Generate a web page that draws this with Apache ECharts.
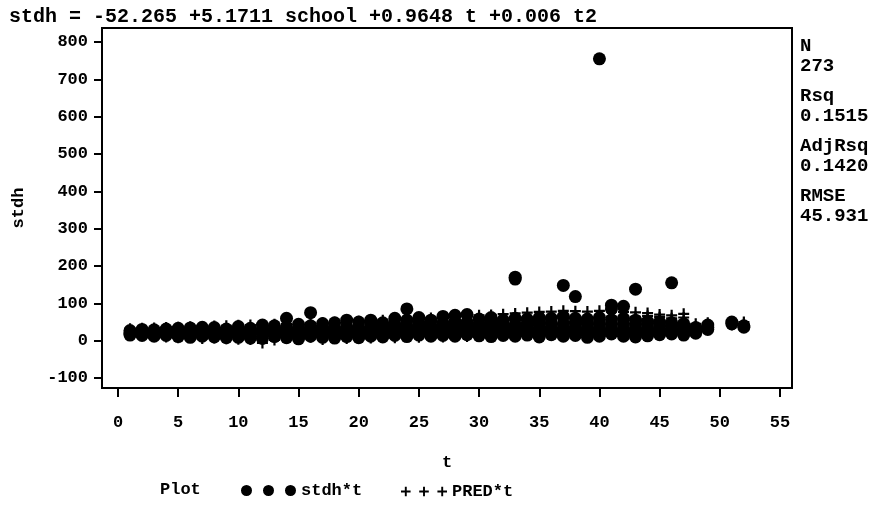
<!DOCTYPE html>
<html>
<head>
<meta charset="utf-8">
<title>stdh vs t</title>
<script src="https://cdn.jsdelivr.net/npm/echarts@6/dist/echarts.min.js"></script>
<style>
  html, body { margin: 0; padding: 0; background: #fff; }
  #chart1 { width: 885px; height: 512px; }
</style>
</head>
<body>
<div id="chart1"></div>
<script>
// t values (1..52) and the observations at each t
const tValues = [1, 2, 3, 4, 5, 6, 7, 8, 9, 10, 11, 12, 13, 14, 15, 16, 17, 18, 19, 20,
  21, 22, 23, 24, 25, 26, 27, 28, 29, 30, 31, 32, 33, 34, 35, 36, 37, 38, 39, 40,
  41, 42, 43, 44, 45, 46, 47, 48, 49, 50, 51, 52];

const stdhByT = [
  [22, 18, 27, 15], [20, 14, 25, 30], [24, 17, 29, 12], [19, 26, 14, 31],
  [23, 11, 28, 17, 33], [21, 15, 27, 9, 34], [18, 25, 12, 30, 36], [22, 10, 28, 16, 35],
  [26, 13, 20, 31, 8], [24, 9, 29, 16, 38], [21, 12, 27, 33, 7], [25, 6, 30, 18, 42],
  [23, 11, 31, 16, 40], [60, 20, 8, 28, 35, 14], [26, 10, 33, 18, 44, 5], [75, 24, 12, 30, 40, 17],
  [22, 9, 28, 36, 15, 46], [27, 13, 33, 20, 48, 7], [25, 11, 31, 55, 18, 38], [28, 14, 35, 50, 21, 8],
  [26, 12, 33, 44, 19, 55], [30, 16, 38, 10, 48, 23], [27, 14, 35, 60, 20, 45], [85, 32, 18, 40, 25, 55, 11],
  [29, 15, 37, 62, 22, 48], [31, 17, 40, 12, 55, 25], [28, 14, 36, 65, 21, 47], [33, 18, 42, 68, 25, 12, 52],
  [30, 16, 38, 70, 23, 50], [34, 19, 44, 13, 58, 27], [31, 17, 40, 62, 24, 50, 11], [35, 20, 45, 14, 55, 28],
  [170, 165, 33, 18, 42, 60, 25, 12], [36, 21, 46, 15, 58, 29], [32, 18, 43, 62, 25, 10, 52], [37, 22, 48, 16, 60, 29],
  [148, 34, 19, 45, 65, 26, 12], [118, 36, 21, 47, 60, 28, 14], [33, 18, 44, 58, 25, 9, 50], [755, 35, 20, 46, 62, 27, 12],
  [95, 85, 32, 18, 44, 56, 25], [92, 34, 20, 46, 60, 27, 12], [138, 31, 17, 42, 55, 24, 10], [33, 19, 45, 52, 26, 13],
  [30, 16, 40, 50, 23], [155, 32, 18, 42, 48, 25], [28, 15, 38, 45, 22], [26, 35, 20],
  [36, 42, 30], [], [50, 45], [40, 36]
];

const predByT = [
  [24, 14, 32, 19], [25, 15, 33, 20], [26, 12, 34, 21], [27, 16, 35, 10],
  [28, 13, 36, 22, 8], [29, 17, 37, 23, 9], [30, 14, 38, 24, 6], [31, 18, 39, 25, 7],
  [32, 15, 40, 26, 5], [33, 19, 41, 27, 4], [34, 16, 42, 28, 3], [35, 20, 43, 29, -6],
  [36, 17, 44, 30, 2], [37, 21, 45, 31, 8, 14], [38, 18, 46, 32, 5, 12], [39, 22, 47, 33, 9, 15],
  [40, 19, 48, 34, 3, 13], [41, 23, 49, 35, 10, 16], [42, 20, 50, 36, 6, 14], [43, 24, 52, 37, 11, 17],
  [44, 21, 54, 38, 7, 15], [45, 25, 55, 39, 12, 18], [46, 22, 56, 40, 8, 16], [47, 26, 58, 41, 13, 19, 30],
  [48, 23, 59, 42, 9, 17], [49, 27, 61, 43, 14, 20], [50, 24, 62, 44, 10, 18], [51, 28, 64, 45, 15, 21, 35],
  [52, 25, 66, 46, 11, 19], [53, 29, 68, 47, 16, 22], [54, 26, 69, 48, 12, 20, 36], [55, 30, 71, 49, 17, 23],
  [56, 27, 73, 50, 13, 21, 38, 60], [57, 31, 75, 51, 18, 24], [58, 28, 77, 52, 14, 22, 40], [59, 32, 78, 53, 19, 25],
  [60, 29, 80, 54, 15, 23, 42], [61, 33, 79, 55, 20, 26, 44], [62, 30, 78, 56, 16, 24, 46], [63, 34, 80, 57, 21, 27, 48],
  [64, 31, 78, 58, 17, 25, 50], [65, 35, 77, 59, 22, 28, 52], [64, 32, 76, 58, 18, 26, 50], [66, 36, 74, 57, 23, 29],
  [63, 33, 70, 55, 19], [60, 37, 68, 54, 24, 30], [62, 34, 72, 52, 20], [45, 38, 30],
  [48, 40, 33], [], [46, 42], [50, 44]
];

const xTicks = [0, 5, 10, 15, 20, 25, 30, 35, 40, 45, 50, 55];
const yTicks = [-100, 0, 100, 200, 300, 400, 500, 600, 700, 800];

const titleText = "stdh = -52.265 +5.1711 school +0.9648 t +0.006 t2";
const statLabels = ["N", "Rsq", "AdjRsq", "RMSE"];
const statValues = ["273", "0.1515", "0.1420", "45.931"];

const monoFont = "'Liberation Mono', 'DejaVu Sans Mono', monospace";
const dotIcon = "path://M0,5.5a5.5,5.5 0 1,0 11,0a5.5,5.5 0 1,0 -11,0Z M22,5.5a5.5,5.5 0 1,0 11,0a5.5,5.5 0 1,0 -11,0Z M44,5.5a5.5,5.5 0 1,0 11,0a5.5,5.5 0 1,0 -11,0Z";
const plusPath = "path://M4,0H6V4H10V6H6V10H4V6H0V4H4Z";
const plusIcon = "path://M4,0H6V4H10V6H6V10H4V6H0V4H4Z M23,0H25V4H29V6H25V10H23V6H19V4H23Z M42,0H44V4H48V6H44V10H42V6H38V4H42Z";

const buildPoints = (byT) => {
  let pts = [];
  for (let i = 0; i < tValues.length; i++) {
    for (let j = 0; j < byT[i].length; j++) {
      pts.push([tValues[i], byT[i][j]]);
    }
  }
  return pts;
};

const boldText = (size) => ({ fontFamily: monoFont, fontWeight: "bold", fontSize: size, color: "#000" });

const buildStats = () => {
  let items = [];
  for (let i = 0; i < statLabels.length; i++) {
    items.push({
      type: "text",
      left: 800,
      top: 37 + i * 50,
      style: { text: statLabels[i], fontFamily: monoFont, fontWeight: "bold", fontSize: 19, fill: "#000" },
    });
    items.push({
      type: "text",
      left: 800,
      top: 57 + i * 50,
      style: { text: statValues[i], fontFamily: monoFont, fontWeight: "bold", fontSize: 19, fill: "#000" },
    });
  }
  return items;
};

const getOptionChart1 = () => {
  return {
    animation: false,
    backgroundColor: "#fff",
    title: {
      text: titleText,
      left: 4,
      top: 2,
      textStyle: boldText(20),
    },
    grid: {
      left: 102,
      right: 93,
      top: 28,
      bottom: 124,
      containLabel: false,
      outerBoundsMode: "none",
      show: true,
      borderColor: "#000",
      borderWidth: 2,
    },
    legend: [
      {
        left: 236,
        top: 477,
        itemWidth: 55,
        itemHeight: 11,
        itemGap: 5,
        selectedMode: false,
        textStyle: boldText(17),
        data: [{ name: "stdh*t", icon: dotIcon }],
      },
      {
        left: 396,
        top: 478,
        itemWidth: 46,
        itemHeight: 10,
        itemGap: 5,
        selectedMode: false,
        textStyle: boldText(17),
        data: [{ name: "PRED*t", icon: plusIcon }],
      },
    ],
    xAxis: {
      type: "value",
      min: -1.33,
      max: 56.0,
      name: "t",
      nameLocation: "middle",
      nameGap: 66,
      nameTextStyle: boldText(17),
      axisLine: { onZero: false, lineStyle: { color: "#000", width: 2 } },
      axisTick: { show: true, inside: false, length: 9, customValues: xTicks, lineStyle: { color: "#000", width: 2 } },
      axisLabel: Object.assign({ customValues: xTicks, margin: 26 }, boldText(17)),
      splitLine: { show: false },
    },
    yAxis: {
      type: "value",
      min: -126.8,
      max: 837.5,
      name: "stdh",
      nameLocation: "middle",
      nameRotate: 90,
      nameGap: 75,
      nameTextStyle: boldText(17),
      axisLine: { onZero: false, lineStyle: { color: "#000", width: 2 } },
      axisTick: { show: true, inside: false, length: 8, customValues: yTicks, lineStyle: { color: "#000", width: 2 } },
      axisLabel: Object.assign({ customValues: yTicks, margin: 14 }, boldText(17)),
      splitLine: { show: false },
    },
    graphic: [
      {
        type: "text",
        left: 160,
        top: 481,
        style: { text: "Plot", fontFamily: monoFont, fontWeight: "bold", fontSize: 17, fill: "#000" },
      },
    ].concat(buildStats()),
    series: [
      {
        name: "stdh*t",
        type: "scatter",
        symbol: "circle",
        symbolSize: 13,
        itemStyle: { color: "#000", opacity: 1 },
        data: buildPoints(stdhByT),
        z: 2,
      },
      {
        name: "PRED*t",
        type: "scatter",
        symbol: plusPath,
        symbolSize: 11,
        itemStyle: { color: "#000", opacity: 1 },
        data: buildPoints(predByT),
        z: 3,
      },
    ],
  };
};

const initCharts = () => {
  const chart1 = echarts.init(document.getElementById("chart1"));
  chart1.setOption(getOptionChart1());
};

window.addEventListener("load", () => {
  initCharts();
});
</script>
</body>
</html>
